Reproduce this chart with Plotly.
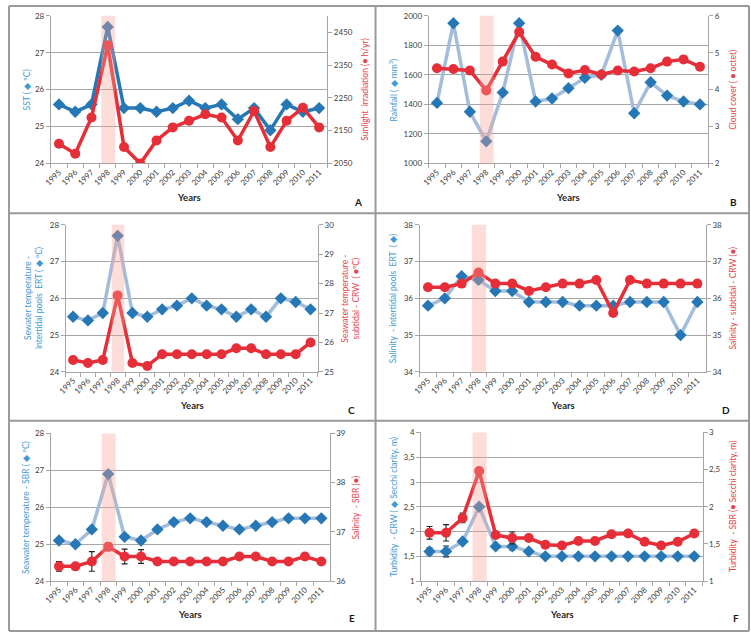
import plotly.graph_objects as go

# ---------------- data ----------------
YEARS = ["1995", "1996", "1997", "1998", "1999", "2000", "2001", "2002", "2003",
         "2004", "2005", "2006", "2007", "2008", "2009", "2010", "2011"]

# A
sst = [25.6, 25.4, 25.6, 27.7, 25.5, 25.5, 25.4, 25.5, 25.7, 25.5, 25.6, 25.2, 25.5, 24.9, 25.6, 25.4, 25.5]
sunlight = [2110, 2080, 2190, 2410, 2100, 2050, 2120, 2160, 2180, 2200, 2190, 2120, 2210, 2100, 2180, 2220, 2160]
# B
rainfall = [1410, 1950, 1350, 1150, 1480, 1950, 1420, 1440, 1510, 1580, 1600, 1900, 1340, 1550, 1460, 1420, 1400]
cloud = [4.58, 4.56, 4.52, 3.98, 4.76, 5.56, 4.89, 4.68, 4.44, 4.53, 4.41, 4.52, 4.49, 4.58, 4.76, 4.82, 4.62]
# C
ert_temp = [25.5, 25.4, 25.6, 27.7, 25.6, 25.5, 25.7, 25.8, 26.0, 25.8, 25.7, 25.5, 25.7, 25.5, 26.0, 25.9, 25.7]
crw_temp = [25.4, 25.3, 25.4, 27.6, 25.3, 25.2, 25.6, 25.6, 25.6, 25.6, 25.6, 25.8, 25.8, 25.6, 25.6, 25.6, 26.0]
# D
ert_sal = [35.8, 36.0, 36.6, 36.5, 36.2, 36.2, 35.9, 35.9, 35.9, 35.8, 35.8, 35.8, 35.9, 35.9, 35.9, 35.0, 35.9]
crw_sal = [36.3, 36.3, 36.4, 36.7, 36.4, 36.4, 36.2, 36.3, 36.4, 36.4, 36.5, 35.6, 36.5, 36.4, 36.4, 36.4, 36.4]
# E
sbr_temp = [25.1, 25.0, 25.4, 26.9, 25.2, 25.1, 25.4, 25.6, 25.7, 25.6, 25.5, 25.4, 25.5, 25.6, 25.7, 25.7, 25.7]
sbr_temp_err = [0.06] * 17
sbr_sal = [36.3, 36.3, 36.4, 36.7, 36.5, 36.5, 36.4, 36.4, 36.4, 36.4, 36.4, 36.5, 36.5, 36.4, 36.4, 36.5, 36.4]
sbr_sal_err = [0.1, 0.0, 0.2, 0.08, 0.15, 0.14, 0, 0, 0, 0, 0, 0, 0, 0, 0, 0, 0]
# F
crw_turb = [1.6, 1.6, 1.8, 2.5, 1.7, 1.7, 1.6, 1.5, 1.5, 1.5, 1.5, 1.5, 1.5, 1.5, 1.5, 1.5, 1.5]
crw_turb_err = [0.07, 0.11, 0.03, 0.03, 0.03, 0.07, 0.03, 0.02, 0.02, 0.02, 0.02, 0.02, 0.02, 0.02, 0.02, 0.02, 0.02]
sbr_turb = [1.65, 1.65, 1.85, 2.48, 1.62, 1.58, 1.58, 1.49, 1.48, 1.54, 1.54, 1.63, 1.64, 1.53, 1.48, 1.53, 1.64]
sbr_turb_err = [0.085, 0.11, 0.065, 0, 0, 0.08, 0, 0, 0, 0, 0, 0, 0, 0, 0, 0, 0]

F_LEFT_TICKS = [1, 1.5, 2, 2.5, 3, 3.5, 4]
F_LEFT_LABELS = ["1", "1,5", "2", "2,5", "3", "3,5", "4"]
F_RIGHT_TICKS = [1, 1.5, 2, 2.5, 3]
F_RIGHT_LABELS = ["1", "1,5", "2", "2,5", "3"]

HIGHLIGHT = (2.6, 3.45)  # category-index span of the 1998 band

# ---------------- style ----------------
W, H = 751, 637
FONT = "Lato, 'Open Sans', sans-serif"
BLUE_MK = "#2677b5"
BLUE_LINE_LIGHT = "#a3bddb"
RED = "#e62e38"
BLUE_TXT = "#3f9ad3"
RED_TXT = "#e8424b"
AX = "#a6a6a6"
TICKTXT = "#404040"

panels = [
    dict(letter="A", box=(43.3, 11, 322.7, 161), left=sst, right=sunlight,
         lrange=[24, 28], ldtick=1, rrange=[2050, 2500], rtick0=2050, rdtick=100,
         blue_line=BLUE_MK,
         ltitle="SST ( ◆ ºC)", rtitle="Sunlight  irradiation (● h/yr)",
         ltx=19, rtx=360, years_y=196, let=(354, 200)),
    dict(letter="B", box=(425.3, 11, 707.7, 161), left=rainfall, right=cloud,
         lrange=[1000, 2000], ldtick=200, rrange=[2, 6], rtick0=2, rdtick=1,
         blue_line=BLUE_LINE_LIGHT,
         ltitle="Rainfall ( ◆ mm<sup>3</sup>)", rtitle="Cloud cover ( ● octet)",
         ltx=389, rtx=732, years_y=196, let=(733, 200)),
    dict(letter="C", box=(58.3, 223.3, 313.3, 372.7), left=ert_temp, right=crw_temp,
         lrange=[24, 28], ldtick=1, rrange=[25, 30], rtick0=25, rdtick=1,
         blue_line=BLUE_LINE_LIGHT,
         ltitle="Sewater temperature -<br>intertidal pools  ERT ( ◆ ºC)",
         rtitle="Seawater temperature -<br>subtidal - CRW  ( ●ºC)",
         ltx=26, rtx=346, years_y=407, let=(347, 411)),
    dict(letter="D", box=(416, 223.3, 705.3, 372.7), left=ert_sal, right=crw_sal,
         lrange=[34, 38], ldtick=1, rrange=[34, 38], rtick0=34, rdtick=1,
         blue_line=BLUE_LINE_LIGHT,
         ltitle="Salinity  - intertidal pools  ERT  ( ◆)", rtitle="Salinity - subtidal - CRW (●)",
         ltx=389, rtx=733, years_y=407, let=(726, 411)),
    dict(letter="E", box=(43.3, 435.3, 325, 585.3), left=sbr_temp, right=sbr_sal,
         lerr=sbr_temp_err, rerr=sbr_sal_err,
         lrange=[24, 28], ldtick=1, rrange=[36, 39], rtick0=36, rdtick=1,
         blue_line=BLUE_LINE_LIGHT,
         ltitle="Seawater temperature - SBR ( ◆ ºC)", rtitle="Salinity  - SBR (●)",
         ltx=18, rtx=352, years_y=619, let=(348, 623)),
    dict(letter="F", box=(417.7, 434.3, 702, 585.3), left=crw_turb, right=sbr_turb,
         lerr=crw_turb_err, rerr=sbr_turb_err,
         lrange=[1, 4], ltickvals=F_LEFT_TICKS, lticktext=F_LEFT_LABELS,
         rrange=[1, 3], rtickvals=F_RIGHT_TICKS, rticktext=F_RIGHT_LABELS,
         blue_line=BLUE_LINE_LIGHT,
         ltitle="Turbidity  - CRW ( ◆ Secchi clarity, m)", rtitle="Turbidity  - SBR (● Secchi clarity, m)",
         ltx=390, rtx=733, years_y=619, let=(736, 623)),
]

fig = go.Figure()
layout = dict(
    width=W, height=H, margin=dict(l=0, r=0, t=0, b=0),
    paper_bgcolor="white", plot_bgcolor="white", showlegend=False,
    font=dict(family=FONT, size=8, color=TICKTXT), separators=",.",
)
shapes = []
annotations = []


def px(x):
    return x / W


def py(y):
    return 1 - y / H


for i, p in enumerate(panels):
    xi = i + 1
    yl = 2 * i + 1
    yr = 2 * i + 2
    xname = "x" if xi == 1 else f"x{xi}"
    ylname = "y" if yl == 1 else f"y{yl}"
    yrname = f"y{yr}"
    x0, t, x1, b = p["box"]

    layout[f"xaxis{'' if xi == 1 else xi}"] = dict(
        domain=[px(x0), px(x1)], anchor=ylname, type="category",
        categoryorder="array", categoryarray=YEARS,
        tickson="boundaries", ticks="outside", ticklen=4, tickcolor=AX,
        showline=True, linecolor=AX, linewidth=1, showgrid=False,
        tickangle=-45, tickfont=dict(size=8, color=TICKTXT), range=[-0.5, 16.5],
    )
    ly = dict(
        domain=[py(b), py(t)], anchor=xname, range=p["lrange"],
        showline=True, linecolor=AX, linewidth=1, ticks="outside", ticklen=4,
        tickcolor=AX, showgrid=True, gridcolor=AX, gridwidth=1, zeroline=False,
        tickfont=dict(size=8, color=TICKTXT),
    )
    if "ltickvals" in p:
        ly.update(tickmode="array", tickvals=p["ltickvals"], ticktext=p["lticktext"])
    else:
        ly.update(tick0=p["lrange"][0], dtick=p["ldtick"])
    layout[f"yaxis{'' if yl == 1 else yl}"] = ly
    ry = dict(
        overlaying=ylname, side="right", anchor=xname, range=p["rrange"],
        showline=True, linecolor=AX, linewidth=1, ticks="outside", ticklen=4,
        tickcolor=AX, showgrid=False, zeroline=False,
        tickfont=dict(size=8, color=TICKTXT),
    )
    if "rtickvals" in p:
        ry.update(tickmode="array", tickvals=p["rtickvals"], ticktext=p["rticktext"])
    else:
        ry.update(tick0=p["rtick0"], dtick=p["rdtick"])
    layout[f"yaxis{yr}"] = ry

    # blue (left) series
    lerr = p.get("lerr")
    fig.add_trace(go.Scatter(
        x=YEARS, y=p["left"], xaxis=xname, yaxis=ylname, mode="lines",
        line=dict(color=p["blue_line"], width=3.5), hoverinfo="skip"))
    fig.add_trace(go.Scatter(
        x=YEARS, y=p["left"], xaxis=xname, yaxis=ylname, mode="markers",
        marker=dict(symbol="diamond", size=9.5, color=BLUE_MK),
        error_y=(dict(type="data", array=lerr, color="#222222", thickness=1.1, width=3)
                 if lerr else None)))
    # red (right) series
    rerr = p.get("rerr")
    fig.add_trace(go.Scatter(
        x=YEARS, y=p["right"], xaxis=xname, yaxis=yrname, mode="lines+markers",
        line=dict(color=RED, width=3.5),
        marker=dict(symbol="circle", size=10, color=RED),
        error_y=(dict(type="data", array=rerr, color="#222222", thickness=1.1, width=3)
                 if rerr else None)))

    # 1998 highlight band (drawn over the lines, semi-transparent)
    shapes.append(dict(type="rect", xref=xname, yref=f"{ylname} domain",
                       x0=HIGHLIGHT[0], x1=HIGHLIGHT[1], y0=0, y1=1,
                       fillcolor="#f7a197", opacity=0.36, line=dict(width=0), layer="above"))

    ymid = py((t + b) / 2)
    annotations.append(dict(xref="paper", yref="paper", x=px(p["ltx"]), y=ymid,
                            text=p["ltitle"], textangle=-90, showarrow=False,
                            font=dict(size=8.5, color=BLUE_TXT), xanchor="center", yanchor="middle"))
    annotations.append(dict(xref="paper", yref="paper", x=px(p["rtx"]), y=ymid,
                            text=p["rtitle"], textangle=-90, showarrow=False,
                            font=dict(size=8.5, color=RED_TXT), xanchor="center", yanchor="middle"))
    annotations.append(dict(xref="paper", yref="paper", x=px((x0 + x1) / 2), y=py(p["years_y"]),
                            text="<b>Years</b>", showarrow=False,
                            font=dict(size=9.5, color="#262626"), xanchor="center", yanchor="middle"))
    annotations.append(dict(xref="paper", yref="paper", x=px(p["let"][0]), y=py(p["let"][1]),
                            text=f"<b>{p['letter']}</b>", showarrow=False,
                            font=dict(size=10, color="#1a1a1a"), xanchor="center", yanchor="middle"))

# panel frames
BORDER = "#9a9a9a"
for (a, b_, c, d) in [(1, 1, 749, 1), (1, 636, 749, 636), (1, 1, 1, 636), (749, 1, 749, 636),
                      (371.5, 1, 371.5, 636), (1, 211.5, 749, 211.5), (1, 422.5, 749, 422.5)]:
    shapes.append(dict(type="line", xref="paper", yref="paper",
                       x0=px(a), y0=py(b_), x1=px(c), y1=py(d),
                       line=dict(color=BORDER, width=2)))

layout["shapes"] = shapes
layout["annotations"] = annotations
fig.update_layout(**layout)
fig.write_html("out.html", config={"displayModeBar": False},
               post_script="document.body.style.margin='0';document.body.style.padding='0';")
